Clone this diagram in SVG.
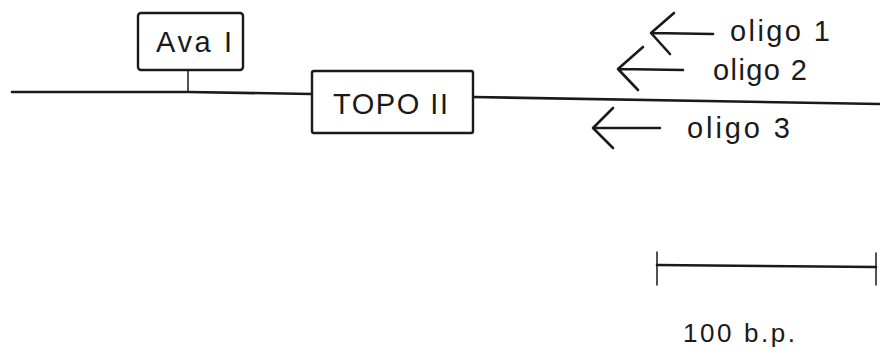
<svg xmlns="http://www.w3.org/2000/svg" width="880" height="356" viewBox="0 0 880 356">
  <style>
    .ln { fill: none; stroke: #1a1a1a; stroke-width: 2.6; stroke-linecap: round; stroke-linejoin: round; }
    .thin { fill: none; stroke: #1a1a1a; stroke-width: 1.5; stroke-linecap: round; }
    .box { fill: #ffffff; stroke: #1a1a1a; stroke-width: 2.4; }
    .lbl { font-family: "Liberation Sans", Arial, sans-serif; font-size: 29px; fill: #1a1a1a; }
    .sm { font-size: 26px; }
  </style>
  <rect width="880" height="356" fill="#ffffff"/>

  <!-- DNA strand and connectors -->
  <g id="connectors">
    <path class="ln" d="M12,92 L188,92 L312,94"/>
    <path class="ln" d="M473,97 L880,104"/>
    <path class="thin" d="M188,70 L188,92"/>
  </g>

  <g id="ava">
    <rect class="box" x="138" y="13" width="105" height="57" rx="3"/>
    <text class="lbl" x="156" y="52" textLength="76" lengthAdjust="spacing">Ava I</text>
  </g>

  <g id="topo">
    <rect class="box" x="312" y="71" width="161" height="62" rx="2"/>
    <text class="lbl" x="333" y="114" textLength="115" lengthAdjust="spacing">TOPO II</text>
  </g>

  <g id="oligo1">
    <path class="ln" d="M651,33 L713,34 M674,13 L651,33 L670,54"/>
    <text class="lbl" x="730" y="41" textLength="100" lengthAdjust="spacing">oligo  1</text>
  </g>

  <g id="oligo2">
    <path class="ln" d="M618,69 L683,70 M643,47 L618,69 L638,90"/>
    <text class="lbl" x="713" y="80" textLength="94" lengthAdjust="spacing">oligo 2</text>
  </g>

  <g id="oligo3">
    <path class="ln" d="M593,128 L660,128 M613,108 L593,128 L613,148"/>
    <text class="lbl" x="687" y="138" textLength="103" lengthAdjust="spacing">oligo  3</text>
  </g>

  <g id="scale">
    <path class="ln" d="M657,265 L876,267"/>
    <path class="thin" d="M657,252 L657,285 M876,253 L876,285"/>
    <text class="lbl sm" x="683" y="342" textLength="112" lengthAdjust="spacing">100 b.p.</text>
  </g>
</svg>
